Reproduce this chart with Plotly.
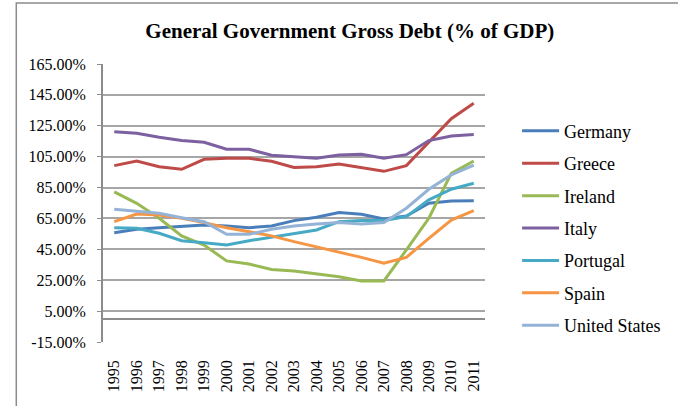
import plotly.graph_objects as go

years = [str(y) for y in range(1995, 2012)]
germany = [55.8, 58.0, 59.0, 60.1, 60.8, 60.1, 59.0, 60.1, 63.6, 65.8, 68.8, 67.7, 64.7, 66.6, 74.8, 76.3, 76.5]
greece = [99.2, 102.2, 98.5, 96.8, 103.3, 104.0, 104.0, 102.0, 98.0, 98.5, 100.3, 98.0, 95.5, 99.2, 114.1, 129.6, 139.6]
ireland = [82.2, 74.8, 65.1, 53.7, 47.8, 37.5, 35.5, 32.0, 31.0, 29.0, 27.3, 24.5, 24.5, 44.6, 65.1, 94.2, 102.2]
italy = [121.2, 120.2, 117.6, 115.4, 114.3, 109.8, 109.8, 105.9, 105.0, 104.0, 106.0, 106.6, 104.0, 106.3, 115.4, 118.4, 119.3]
portugal = [59.0, 58.6, 55.4, 50.6, 49.3, 47.8, 50.6, 52.8, 55.4, 57.5, 62.9, 63.6, 63.6, 66.2, 77.0, 83.9, 87.8]
spain = [62.9, 67.9, 67.2, 65.1, 62.3, 59.0, 56.4, 53.7, 50.0, 46.7, 43.1, 39.8, 36.0, 39.8, 52.1, 64.0, 70.0]
united_states = [70.9, 69.8, 68.3, 65.5, 62.9, 54.7, 54.7, 58.0, 60.1, 61.4, 62.3, 61.4, 62.3, 71.6, 83.9, 93.2, 99.6]

y_tick_values = [-15, 5, 25, 45, 65, 85, 105, 125, 145, 165]
y_tick_labels = ["-15.00%", "5.00%", "25.00%", "45.00%", "65.00%", "85.00%",
                 "105.00%", "125.00%", "145.00%", "165.00%"]

series = [
    ("Germany", germany, "#4A7EBB"),
    ("Greece", greece, "#BE4B48"),
    ("Ireland", ireland, "#98B954"),
    ("Italy", italy, "#7D60A0"),
    ("Portugal", portugal, "#46AAC5"),
    ("Spain", spain, "#F69544"),
    ("United States", united_states, "#95B3D7"),
]

FONT = "Liberation Serif"

fig = go.Figure()
for name, vals, color in series:
    fig.add_trace(go.Scatter(x=years, y=vals, mode="lines", name=name,
                             legendgroup=name,
                             line=dict(color=color, width=3)))

fig.update_layout(
    width=678, height=406,
    margin=dict(l=103, r=179, t=64, b=64),
    paper_bgcolor="white", plot_bgcolor="white",
    font=dict(family=FONT, color="black"),
    title=dict(text="<b>General Government Gross Debt (% of GDP)</b>",
               font=dict(family=FONT, size=21, color="black"),
               x=0.516, xref="container", xanchor="center",
               y=0.924, yref="container", yanchor="middle"),
    showlegend=True,
    legend=dict(x=1.084, xanchor="left", y=0.825, yanchor="top",
                font=dict(family=FONT, size=18, color="black"),
                tracegroupgap=6, itemwidth=37, bgcolor="rgba(0,0,0,0)"),
    xaxis=dict(type="category", range=[-0.5, 16.5], tickangle=-90,
               tickfont=dict(family=FONT, size=16), showgrid=False,
               showline=False, ticks="", ticklabelstandoff=14),
    yaxis=dict(range=[-15, 165], tickvals=y_tick_values, ticktext=y_tick_labels,
               tickfont=dict(family=FONT, size=16),
               showgrid=True, gridcolor="#A6A6A6", gridwidth=1.5,
               showline=True, linecolor="#8C8C8C", linewidth=2,
               ticks="outside", ticklen=4, tickcolor="#8C8C8C",
               ticklabelstandoff=8,
               zeroline=True, zerolinecolor="#8C8C8C", zerolinewidth=2),
    shapes=[dict(type="rect", xref="paper", yref="paper",
                 x0=-0.227, x1=1.6, y0=-0.45, y1=1.219,
                 line=dict(color="#8C8C8C", width=1.5), layer="below")],
)

fig.write_html("out.html")
